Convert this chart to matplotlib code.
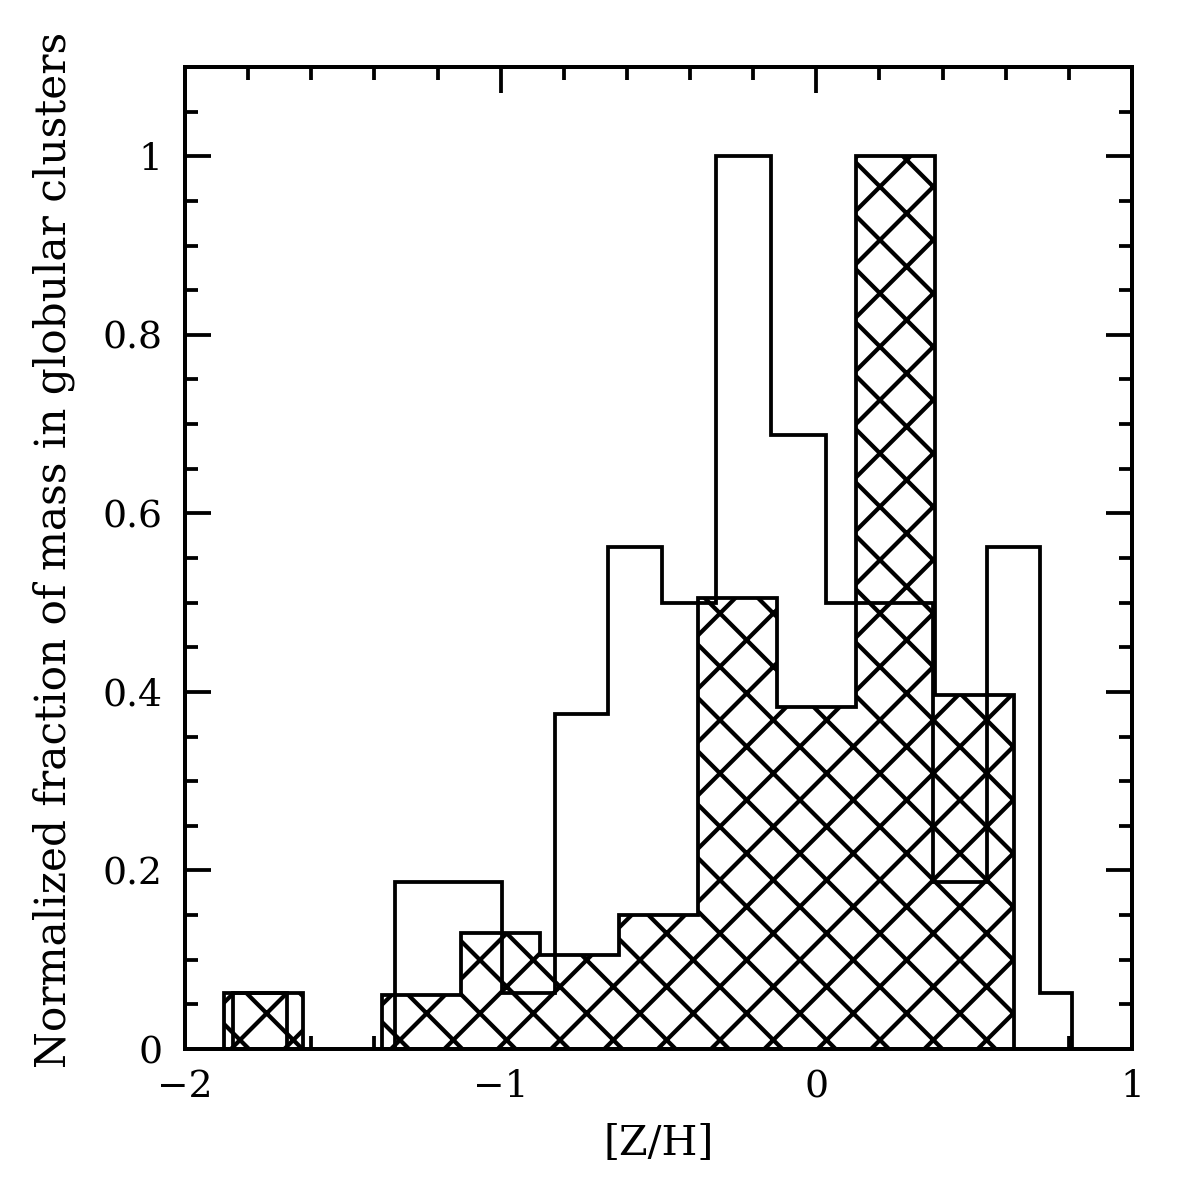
import matplotlib
matplotlib.use("Agg")
import matplotlib.pyplot as plt
import numpy as np

# Hatched histogram (bin width 0.25)
hatch_edges = [-1.875, -1.625, -1.375, -1.125, -0.875, -0.625, -0.375, -0.125, 0.125, 0.375, 0.625]
hatch_values = [0.0625, 0.0, 0.06, 0.13, 0.105, 0.15, 0.505, 0.383, 1.0, 0.397]

# Open histogram
open_edges = [-1.848, -1.677, -1.335, -1.165, -0.996, -0.828, -0.660, -0.489, -0.318,
              -0.144, 0.030, 0.200, 0.369, 0.540, 0.708, 0.810]
open_values = [0.0625, 0.0, 0.1875, 0.1875, 0.0625, 0.375, 0.5625, 0.5, 1.0,
               0.6875, 0.5, 0.5, 0.1875, 0.5625, 0.0625]

xticks = [-2, -1, 0, 1]
xticklabels = ["\u22122", "\u22121", "0", "1"]
yticks = [0, 0.2, 0.4, 0.6, 0.8, 1.0]
yticklabels = ["0", "0.2", "0.4", "0.6", "0.8", "1"]

DPI = 160
plt.rcParams['font.family'] = ['DejaVu Serif']
plt.rcParams['hatch.linewidth'] = 1.9

fig = plt.figure(figsize=(1196 / DPI, 1196 / DPI), dpi=DPI)
ax = fig.add_axes([185 / 1196, 1 - 1049 / 1196, 947 / 1196, 982 / 1196])

ax.stairs(hatch_values, hatch_edges, baseline=0, fill=True, facecolor='white',
          edgecolor='black', hatch='x', linewidth=1.7, zorder=2)
ax.stairs(open_values, open_edges, baseline=0, fill=False, edgecolor='black',
          linewidth=1.7, zorder=3)

ax.set_xlim(-2, 1)
ax.set_ylim(0, 1.1)
ax.set_xticks(xticks)
ax.set_xticklabels(xticklabels)
ax.set_yticks(yticks)
ax.set_yticklabels(yticklabels)
ax.set_xticks(np.arange(-2, 1.001, 0.2), minor=True)
ax.set_yticks(np.arange(0, 1.1001, 0.05), minor=True)

ax.tick_params(which='both', direction='in', top=True, right=True, width=1.7, color='black')
ax.tick_params(which='major', length=11.5, labelsize=17)
ax.tick_params(which='minor', length=5.8)
ax.tick_params(axis='x', which='major', pad=9)
ax.tick_params(axis='y', which='major', pad=10)

for s in ax.spines.values():
    s.set_linewidth(1.8)

ax.set_xlabel("[Z/H]", fontsize=18.5)
ax.set_ylabel("Normalized fraction of mass in globular clusters", fontsize=19)
ax.xaxis.set_label_coords(0.5, -0.076)
ax.yaxis.set_label_coords(-0.116, 0.508)

fig.savefig("out.png", dpi=DPI)
